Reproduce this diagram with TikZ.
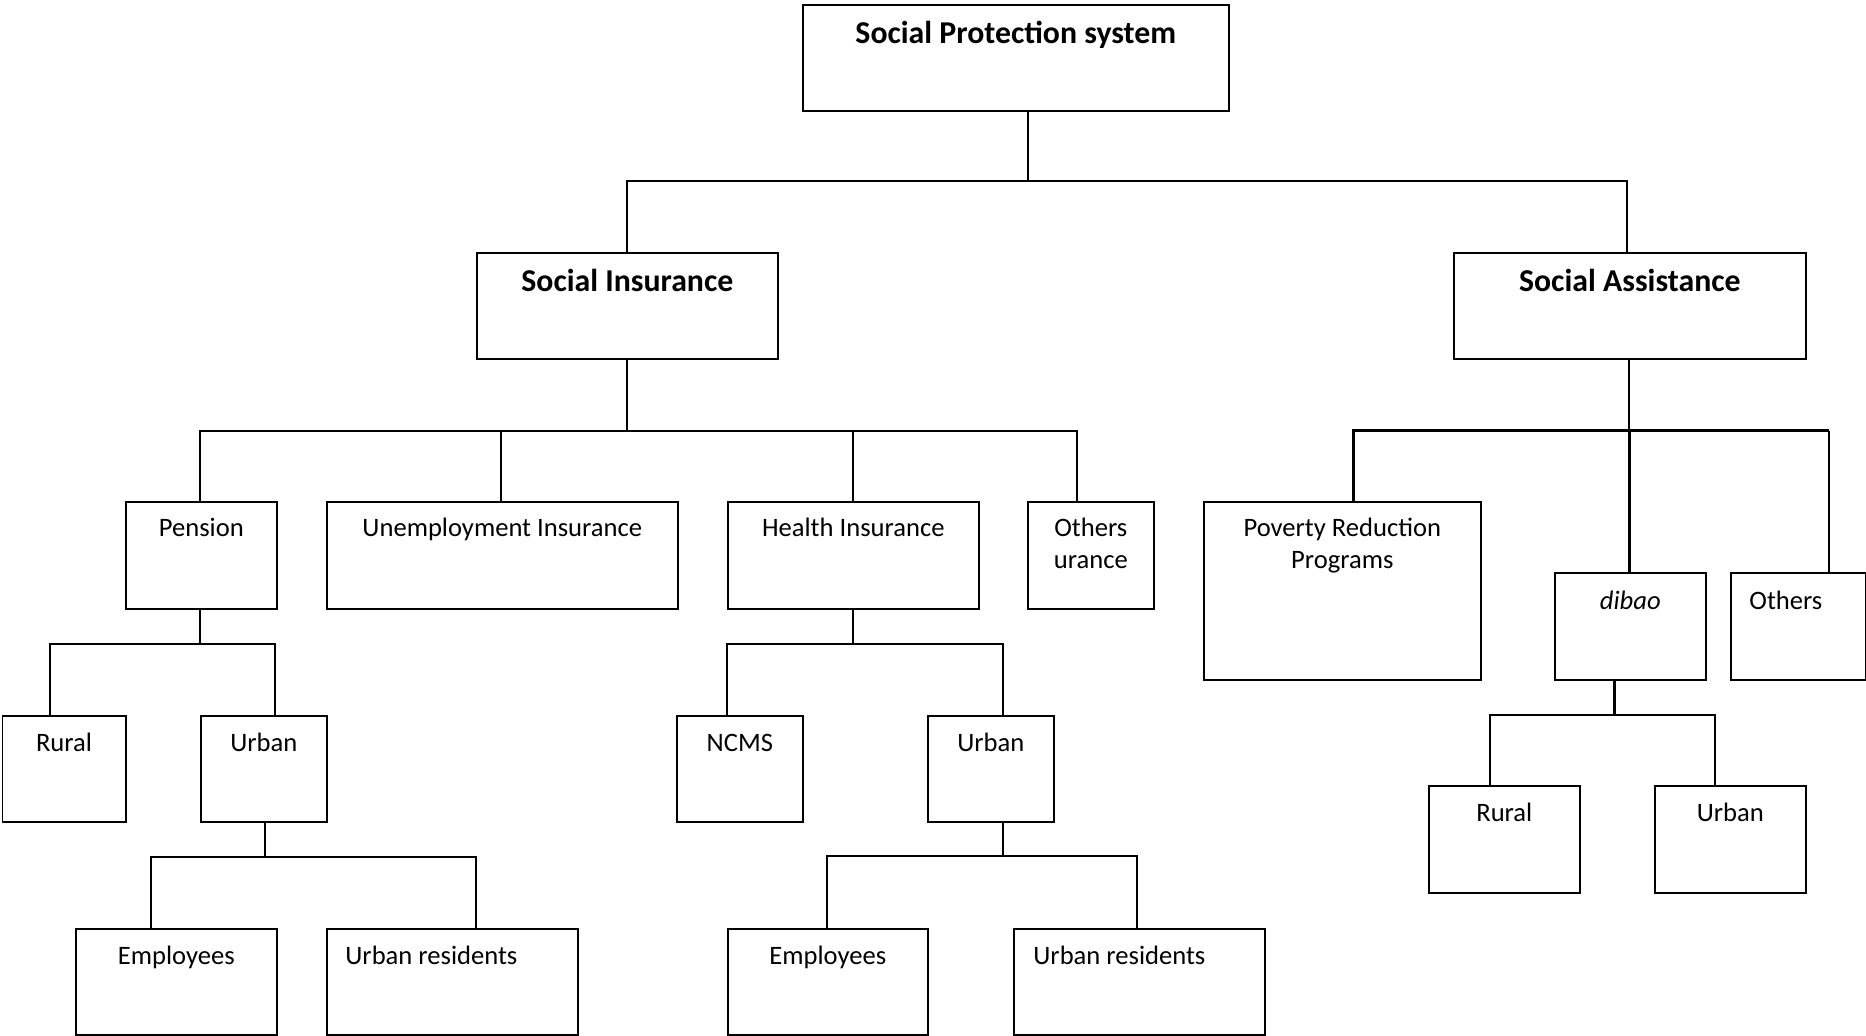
\documentclass[tikz,border=0pt]{standalone}
\usepackage{fontspec}
\setmainfont{Carlito}
\newcommand\ml[1]{\begin{tabular}[t]{@{}c@{}}#1\end{tabular}}
\newcommand\bx[5]{\node[box, minimum width={0.5pt*(#4-#2)}, minimum height={0.5pt*(#5-#3)}] (#1) at (#2,#3) {};}
\tikzset{
  box/.style={draw, line width=0.8pt, inner sep=0pt, anchor=north west},
  conn/.style={line width=1pt},
  thinconn/.style={line width=0.8pt},
  thickconn/.style={line width=1.5pt},
  txt/.style={font=\fontsize{13.3}{16}\selectfont, inner sep=0pt, anchor=base},
  ltxt/.style={font=\fontsize{13.3}{16}\selectfont, inner sep=0pt, anchor=base west},
  btxt/.style={font=\fontsize{15.9}{18}\selectfont\bfseries, inner sep=0pt, anchor=base},
}
\begin{document}
\begin{tikzpicture}[x=0.5pt, y=-0.5pt]
\useasboundingbox (0,0) rectangle (1866,1036);
% boxes
\bx{sp}{802}{4}{1228}{110}
\bx{si}{476}{252}{777}{358}
\bx{sa}{1453}{252}{1805}{358}
\bx{pen}{125}{501}{276}{608}
\bx{ui}{326}{501}{677}{608}
\bx{hi}{727}{501}{978}{608}
\bx{oth}{1027}{501}{1153}{608}
\bx{pov}{1203}{501}{1480}{679}
\bx{dib}{1554}{572}{1705}{679}
\bx{othb}{1730}{572}{1864.5}{679}
\bx{rur1}{1.5}{715}{125}{821}
\bx{urb1}{200}{715}{326}{821}
\bx{ncms}{676}{715}{802}{821}
\bx{urb2}{927}{715}{1053}{821}
\bx{emp1}{75}{928}{276}{1034}
\bx{res1}{326}{928}{577}{1034}
\bx{emp2}{727}{928}{927}{1034}
\bx{res2}{1013}{928}{1264}{1034}
\bx{rur3}{1428}{785}{1579}{892}
\bx{urb3}{1654}{785}{1805}{892}
% texts
\node[btxt] (sp-t) at ([yshift=-20pt]sp.north) {Social Protection system};
\node[btxt] (si-t) at ([yshift=-20pt]si.north) {Social Insurance};
\node[btxt] (sa-t) at ([yshift=-20pt]sa.north) {Social Assistance};
\node[txt] (pen-t) at ([yshift=-18pt]pen.north) {Pension};
\node[txt] (ui-t) at ([yshift=-18pt]ui.north) {Unemployment Insurance};
\node[txt] (hi-t) at ([yshift=-18pt]hi.north) {Health Insurance};
\node[txt] (oth-t) at ([yshift=-18pt]oth.north) {\ml{Others\\urance}};
\node[txt] (pov-t) at ([yshift=-18pt]pov.north) {\ml{Poverty Reduction\\Programs}};
\node[txt] (dib-t) at ([yshift=-18.5pt]dib.north) {\textit{dibao}};
\node[ltxt] (othb-t) at ([xshift=9.5pt,yshift=-18.5pt]othb.north west) {Others};
\node[txt] (rur1-t) at ([yshift=-18pt]rur1.north) {Rural};
\node[txt] (urb1-t) at ([yshift=-18pt]urb1.north) {Urban};
\node[txt] (ncms-t) at ([yshift=-18pt]ncms.north) {NCMS};
\node[txt] (urb2-t) at ([yshift=-18pt]urb2.north) {Urban};
\node[txt] (emp1-t) at ([yshift=-18pt]emp1.north) {Employees};
\node[ltxt] (res1-t) at ([xshift=9.5pt,yshift=-18pt]res1.north west) {Urban residents};
\node[txt] (emp2-t) at ([yshift=-18pt]emp2.north) {Employees};
\node[ltxt] (res2-t) at ([xshift=10pt,yshift=-18pt]res2.north west) {Urban residents};
\node[txt] (rur3-t) at ([yshift=-18pt]rur3.north) {Rural};
\node[txt] (urb3-t) at ([yshift=-18pt]urb3.north) {Urban};
% junction coordinates
\coordinate (j0) at (1028,181);
\coordinate (j0L) at (627,181);
\coordinate (j0R) at (1627,181);
\coordinate (j1) at (627,431);
\coordinate (j1a) at (200,431);
\coordinate (j1b) at (501,431);
\coordinate (j1c) at (853,431);
\coordinate (j1d) at (1077,431);
\coordinate (j2) at (200,644);
\coordinate (j2a) at (50,644);
\coordinate (j2b) at (275,644);
\coordinate (j3) at (265,857);
\coordinate (j3a) at (151,857);
\coordinate (j3b) at (476,857);
\coordinate (j4) at (853,644);
\coordinate (j4a) at (727,644);
\coordinate (j4b) at (1003,644);
\coordinate (j5) at (1003,856);
\coordinate (j5a) at (827,856);
\coordinate (j5b) at (1137,856);
\coordinate (j6) at (1629,431);
\coordinate (j6a) at (1353,431);
\coordinate (j6b) at (1829,431);
\coordinate (j7) at (1614,715);
\coordinate (j7a) at (1490,715);
\coordinate (j7b) at (1715,715);
% connectors
\draw[conn] (sp.south -| j0) -- (j0);
\draw[conn] (si.north -| j0L) -- (j0L) -- (j0R) -- (sa.north -| j0R);
\draw[conn] (si.south -| j1) -- (j1);
\draw[conn] (pen.north -| j1a) -- (j1a) -- (j1d) -- (oth.north -| j1d);
\draw[conn] (ui.north -| j1b) -- (j1b);
\draw[conn] (hi.north -| j1c) -- (j1c);
\draw[conn] (pen.south -| j2) -- (j2);
\draw[conn] (rur1.north -| j2a) -- (j2a) -- (j2b) -- (urb1.north -| j2b);
\draw[thinconn] (urb1.south -| j3) -- (j3);
\draw[thinconn] (emp1.north -| j3a) -- (j3a) -- (j3b) -- (res1.north -| j3b);
\draw[thinconn] (hi.south -| j4) -- (j4);
\draw[conn] (ncms.north -| j4a) -- (j4a) -- (j4b) -- (urb2.north -| j4b);
\draw[conn] (urb2.south -| j5) -- (j5);
\draw[thinconn] (emp2.north -| j5a) -- (j5a) -- (j5b) -- (res2.north -| j5b);
\draw[conn] (sa.south -| j6) -- (j6);
\draw[thickconn] (pov.north -| j6a) -- (j6a) -- (j6b);
\draw[thinconn] (j6b) -- (othb.north -| j6b);
\draw[thickconn] (j6) -- (dib.north -| j6);
\draw[thickconn] (dib.south -| j7) -- (j7);
\draw[conn] (rur3.north -| j7a) -- (j7a) -- (j7b) -- (urb3.north -| j7b);
\end{tikzpicture}
\end{document}
